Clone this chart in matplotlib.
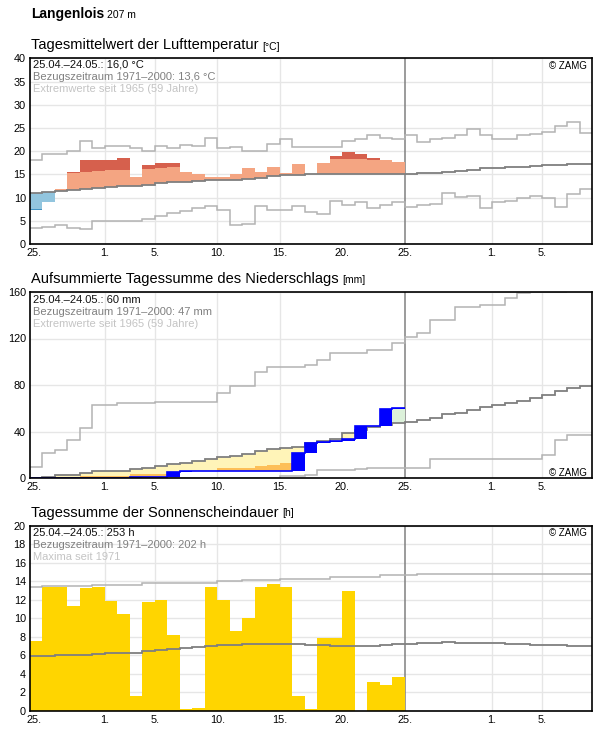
import numpy as np
import matplotlib
matplotlib.use("Agg")
import matplotlib.pyplot as plt
from matplotlib.transforms import ScaledTranslation

plt.rcParams['font.family'] = ['Liberation Sans', 'DejaVu Sans']

W, H = 596, 729

# x axis: days since 25.04., 45 day window, observations for the first 30
day_ticks = [0, 6, 10, 15, 20, 25, 30, 37, 41]
day_labels = ['25.', '1.', '5.', '10.', '15.', '20.', '25.', '1.', '5.']
grid_days = [6, 10, 15, 20, 37, 41]

# --- air temperature (daily mean, degC)
t_val = [7.3, 9.1, 11.8, 15.6, 18.1, 18.1, 18.1, 18.5, 14.4, 17.0,
         17.5, 17.5, 15.5, 15.1, 14.4, 14.4, 15.1, 16.3, 15.5, 16.6,
         15.3, 17.2, 15.0, 17.4, 18.9, 19.8, 19.4, 18.5, 18.1, 17.6]
t_warm = [14.8, 15.0, 15.2, 15.4, 15.6, 15.7, 15.9, 15.9, 16.0, 16.1,
          16.4, 16.6, 16.7, 16.8, 17.0, 17.0, 17.2, 17.3, 17.4, 17.6,
          17.7, 17.8, 17.9, 18.0, 18.3, 18.3, 18.3, 18.1, 18.2, 18.2]
t_cold = [7.5, 7.7, 7.9, 8.1, 8.3, 8.6, 8.7, 8.9, 9.1, 9.3,
          9.6, 9.8, 9.8, 10.0, 10.2, 10.2, 10.4, 10.6, 10.8, 11.1,
          11.3, 11.4, 11.5, 11.5, 11.5, 11.6, 11.6, 11.6, 11.6, 11.6]
t_mean = [11.0, 11.2, 11.4, 11.6, 11.8, 12.1, 12.2, 12.4, 12.6, 12.8,
          13.1, 13.3, 13.3, 13.5, 13.7, 13.7, 13.9, 14.1, 14.3, 14.6,
          14.8, 14.9, 15.0, 15.0, 15.0, 15.1, 15.1, 15.1, 15.1, 15.1,
          15.1, 15.3, 15.4, 15.5, 15.7, 16.0, 16.3, 16.4, 16.6, 16.7,
          16.9, 17.0, 17.1, 17.2, 17.2]
t_max = [18.2, 19.5, 19.5, 20.1, 22.2, 20.8, 21.2, 21.2, 20.6, 20.1,
         21.2, 20.6, 21.4, 21.2, 22.9, 20.8, 21.0, 20.1, 20.1, 21.6,
         22.7, 21.0, 21.0, 21.0, 21.0, 22.3, 22.7, 23.4, 22.9, 22.7,
         23.4, 21.9, 22.7, 22.9, 23.6, 24.7, 23.6, 22.7, 22.7, 23.4,
         23.8, 24.2, 25.5, 26.4, 24.0]
t_min = [3.4, 3.7, 4.2, 3.4, 3.2, 4.9, 4.9, 4.9, 4.9, 5.3,
         6.1, 6.6, 7.1, 7.7, 8.3, 7.3, 4.0, 4.4, 8.1, 7.3,
         7.3, 8.2, 6.8, 6.5, 9.3, 8.4, 9.1, 7.7, 8.4, 9.1,
         7.9, 8.4, 8.7, 10.9, 10.2, 10.4, 7.7, 9.0, 9.2, 10.0,
         10.3, 10.0, 7.9, 10.8, 11.8]

# --- precipitation, accumulated (mm)
p_cur = [0.0, 0.0, 0.0, 0.0, 0.0, 0.0, 0.0, 0.0, 0.5, 0.5,
         0.6, 5.0, 5.8, 6.3, 6.3, 6.3, 6.3, 6.3, 6.3, 6.3,
         6.3, 21.5, 29.7, 30.6, 31.4, 33.2, 44.7, 44.8, 59.5, 60.0]
p_dry = [0.0, 0.0, 1.0, 1.0, 2.0, 2.0, 2.0, 2.0, 3.3, 3.3,
         3.3, 4.0, 4.5, 5.0, 5.5, 8.5, 8.5, 8.5, 10.6, 11.2,
         12.9, 14.0, 15.5, 17.0, 18.0, 20.0, 21.5, 23.0, 24.5, 26.0]
p_mean = [0.3, 1.0, 2.8, 2.8, 4.0, 5.6, 6.3, 6.3, 8.0, 8.9,
          10.5, 12.3, 12.9, 15.0, 16.5, 18.1, 18.9, 21.0, 23.0, 24.6,
          25.4, 26.3, 29.7, 32.0, 33.4, 38.4, 41.3, 44.1, 45.9, 47.0,
          47.9, 49.7, 51.4, 55.2, 55.8, 58.4, 61.0, 62.7, 64.5, 66.5,
          68.8, 71.4, 74.9, 77.5, 79.3]
p_max = [9.7, 21.9, 24.5, 32.3, 42.7, 62.7, 62.7, 64.1, 64.1, 64.1,
         65.0, 65.6, 65.6, 65.6, 65.6, 73.2, 78.9, 78.9, 91.1, 95.8,
         95.8, 95.8, 96.9, 101.2, 107.3, 107.3, 107.3, 110.2, 110.2, 116.0,
         121.0, 124.7, 135.8, 135.8, 147.0, 147.0, 148.4, 148.4, 155.1, 159.4,
         159.8, 159.8, 159.8]
p_min = [0.0, 0.0, 0.0, 0.0, 0.0, 0.0, 0.0, 0.0, 0.0, 0.0,
         0.0, 0.0, 0.0, 0.0, 0.0, 0.0, 0.0, 0.0, 0.0, 0.0,
         1.3, 1.3, 3.0, 6.5, 6.5, 6.5, 7.4, 8.9, 8.9, 8.9,
         8.9, 8.9, 16.7, 16.7, 16.7, 16.7, 16.7, 16.7, 16.7, 16.7,
         16.7, 20.2, 32.6, 36.7, 36.7]

# --- sunshine duration (h per day)
s_val = [7.5, 13.4, 13.4, 11.3, 13.3, 13.4, 11.9, 10.5, 1.6, 11.7,
         12.0, 8.2, 0.2, 0.3, 13.4, 12.0, 8.6, 10.0, 13.4, 13.7,
         13.4, 1.6, 0.2, 7.9, 7.9, 12.9, 0.0, 3.1, 2.8, 3.65]
s_mean = [5.9, 5.9, 6.0, 6.0, 6.0, 6.1, 6.2, 6.2, 6.3, 6.5,
          6.6, 6.7, 6.8, 6.9, 7.0, 7.1, 7.1, 7.2, 7.2, 7.2,
          7.23, 7.23, 7.12, 7.12, 7.0, 7.0, 7.0, 7.0, 7.12, 7.23,
          7.23, 7.3, 7.3, 7.4, 7.3, 7.3, 7.3, 7.3, 7.23, 7.23,
          7.12, 7.12, 7.12, 7.0, 7.0]
s_max = [13.35, 13.5, 13.5, 13.5, 13.5, 13.6, 13.6, 13.6, 13.6, 13.75,
         13.75, 13.75, 13.85, 13.85, 13.85, 14.0, 14.0, 14.1, 14.1, 14.1,
         14.2, 14.2, 14.25, 14.25, 14.4, 14.4, 14.5, 14.5, 14.65, 14.65,
         14.65, 14.78, 14.78, 14.78, 14.78, 14.78, 14.78, 14.78, 14.78, 14.78,
         14.78, 14.78, 14.78, 14.78, 14.78]

MEAN_C = '#7f7f7f'
EXT_C = '#b3b3b3'
GRID_C = '#e6e6e6'


def fx(x):
    return x / W


def fy(y):
    return 1 - y / H


def edges(n):
    return np.arange(n + 1)


def make_axes(top, bottom, ymax, yticks):
    ax = fig.add_axes([fx(30), fy(bottom), 562 / W, (bottom - top) / H])
    ax.set_xlim(0, 45)
    ax.set_ylim(0, ymax)
    ax.set_xticks(day_ticks, day_labels)
    ax.set_yticks(yticks)
    ax.tick_params(length=0, labelsize=7.8, pad=3)
    # first date label sits a little to the right, like the original
    lab0 = ax.get_xticklabels()[0]
    lab0.set_transform(lab0.get_transform() + ScaledTranslation(3 / 72, 0, fig.dpi_scale_trans))
    ax.grid(axis='y', color=GRID_C, lw=1)
    for d in grid_days:
        ax.axvline(d, color=GRID_C, lw=1, zorder=0.5)
    ax.axvline(30, color='#808080', lw=1.1, zorder=1.5)
    ax.set_axisbelow(True)
    for s in ax.spines.values():
        s.set_linewidth(1.2)
        s.set_zorder(10)
    return ax


def header(top, lines, base_off):
    cols = ['#111111', '#808080', '#c4c4c4']
    for i, (txt, c) in enumerate(zip(lines, cols)):
        fig.text(fx(33), fy(top + base_off + 12 * i), txt, color=c,
                 fontsize=8, va='baseline', ha='left')


def title(y, main, unit):
    t = fig.text(fx(31), fy(y), main, fontsize=10.5, va='baseline')
    bb = t.get_window_extent(renderer)
    fig.text(fx(bb.x1 + 4), fy(y), unit, fontsize=7.5, va='baseline')


fig = plt.figure(figsize=(W / 100, H / 100), dpi=100)
renderer = fig.canvas.get_renderer()

t = fig.text(fx(31), fy(18.3), 'Langenlois', fontsize=10, weight='bold', va='baseline')
bb = t.get_window_extent(renderer)
fig.text(fx(bb.x1 + 3), fy(18.3), '207 m', fontsize=7.5, va='baseline')

# ---------------- temperature
tv = np.array(t_val)
tm = np.array(t_mean[:30])
tw = np.array(t_warm)
tc = np.array(t_cold)
e30 = edges(30)
e45 = edges(45)

title(49.5, 'Tagesmittelwert der Lufttemperatur', '[°C]')
ax1 = make_axes(58.5, 244, 40, range(0, 41, 5))
above = tv > tm
below = tv < tm
ax1.stairs(np.where(above, np.minimum(tv, tw), tm), e30, baseline=tm,
           fill=True, color='#f4a582', lw=0, zorder=2)
ax1.stairs(np.where(above & (tv > tw), tv, tw), e30, baseline=tw,
           fill=True, color='#d6604d', lw=0, zorder=2)
ax1.stairs(tm, e30, baseline=np.where(below, np.maximum(tv, tc), tm),
           fill=True, color='#92c5de', lw=0, zorder=2)
ax1.stairs(tc, e30, baseline=np.where(below & (tv < tc), tv, tc),
           fill=True, color='#4393c3', lw=0, zorder=2)
ax1.stairs(t_max, e45, baseline=None, color=EXT_C, lw=1.1, zorder=3)
ax1.stairs(t_min, e45, baseline=None, color=EXT_C, lw=1.1, zorder=3)
ax1.stairs(t_mean, e45, baseline=None, color=MEAN_C, lw=1.3, zorder=4)
header(58.5, ['25.04.–24.05.: 16,0 °C', 'Bezugszeitraum 1971–2000: 13,6 °C',
              'Extremwerte seit 1965 (59 Jahre)'], 9)
fig.text(fx(587), fy(69), '© ZAMG', fontsize=7, ha='right', va='baseline')

# ---------------- precipitation
pc = np.array(p_cur)
pm = np.array(p_mean[:30])
pd_ = np.array(p_dry)
prev = np.concatenate([[0.0], pc[:-1]])

title(283, 'Aufsummierte Tagessumme des Niederschlags', '[mm]')
ax2 = make_axes(292, 478, 160, [0, 40, 80, 120, 160])
ax2.stairs(pm, e30, baseline=np.minimum(pc, pm), fill=True,
           color='#fff4b8', lw=0, zorder=2)
ax2.stairs(np.maximum(pc, np.minimum(pd_, pm)), e30, baseline=pc, fill=True,
           color='#fdbf58', lw=0, zorder=2)
ax2.stairs(np.maximum(pc, pm), e30, baseline=pm, fill=True,
           color='#dcf1da', lw=0, zorder=2)
ax2.stairs(p_max, edges(len(p_max)), baseline=None, color=EXT_C, lw=1.1, zorder=3)
ax2.stairs(p_min, e45, baseline=None, color=EXT_C, lw=1.1, zorder=3)
ax2.stairs(p_mean, e45, baseline=None, color=MEAN_C, lw=1.3, zorder=4)
ax2.stairs(pc, e30, baseline=prev, fill=True, color='#0000ff', lw=0, zorder=5)
ax2.stairs(pc, e30, baseline=None, color='#0000ff', lw=1.2, zorder=5)
header(292, ['25.04.–24.05.: 60 mm', 'Bezugszeitraum 1971–2000: 47 mm',
             'Extremwerte seit 1965 (59 Jahre)'], 11)
fig.text(fx(587), fy(476), '© ZAMG', fontsize=7, ha='right', va='baseline')

# ---------------- sunshine
title(516.5, 'Tagessumme der Sonnenscheindauer', '[h]')
ax3 = make_axes(525.5, 711, 20, range(0, 21, 2))
ax3.stairs(s_val, e30, fill=True, color='#ffd500', lw=0, zorder=2)
ax3.stairs(s_max, e45, baseline=None, color=EXT_C, lw=1.1, zorder=3)
ax3.stairs(s_mean, e45, baseline=None, color=MEAN_C, lw=1.3, zorder=4)
header(525.5, ['25.04.–24.05.: 253 h', 'Bezugszeitraum 1971–2000: 202 h',
               'Maxima seit 1971'], 11)
fig.text(fx(587), fy(536.5), '© ZAMG', fontsize=7, ha='right', va='baseline')

fig.savefig('out.png', dpi=100)
